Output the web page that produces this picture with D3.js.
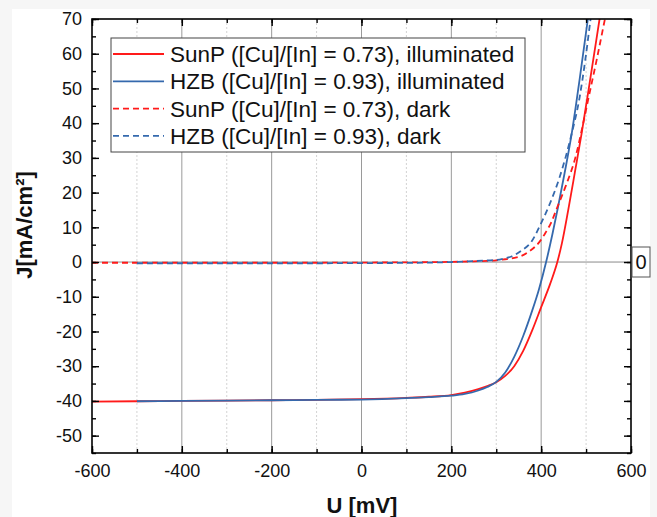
<!DOCTYPE html>
<html>
<head>
<meta charset="utf-8">
<script src="https://cdn.jsdelivr.net/npm/d3@7"></script>
<style>
  html, body { margin: 0; padding: 0; background: #f6f6f6; }
  svg { display: block; font-family: Arial, "Liberation Sans", sans-serif; }
</style>
</head>
<body>
<svg id="chart" width="657" height="517"></svg>
<script>
(function() {
'use strict';

// SunP ([Cu]/[In] = 0.73), illuminated
var sunpLightU = [-600, -500, -400, -300, -200, -100, 0, 100, 150, 200, 230, 260, 280, 300, 320, 340, 360, 380, 400, 420, 436, 446, 460, 475, 490, 510, 530, 545];
var sunpLightJ = [-40.2, -40.1, -40.0, -39.9, -39.8, -39.7, -39.5, -39.1, -38.8, -38.3, -37.6, -36.6, -35.7, -34.6, -32.8, -30.0, -25.6, -19.7, -13.0, -6.3, 0, 5.3, 14.8, 25.8, 37, 53.3, 70, 82.5];

// HZB ([Cu]/[In] = 0.93), illuminated
var hzbLightU = [-500, -400, -300, -200, -100, 0, 100, 150, 200, 230, 260, 280, 300, 320, 340, 360, 380, 395, 411, 425, 437, 452, 468, 486, 504, 515];
var hzbLightJ = [-40.1, -40.0, -39.9, -39.8, -39.7, -39.6, -39.2, -38.9, -38.5, -38.0, -37.0, -36.0, -34.5, -31.8, -27.3, -21.3, -14.0, -7.9, 0, 8, 15.5, 25.5, 37, 53, 70, 80];

// SunP dark
var sunpDarkU = [-600, -500, -400, -300, -200, -100, 0, 100, 200, 250, 280, 300, 320, 340, 355, 375, 395, 410, 422, 435, 455, 477, 492, 505, 524, 542, 550];
var sunpDarkJ = [-0.2, -0.2, -0.2, -0.2, -0.2, -0.2, -0.15, -0.1, 0.05, 0.2, 0.35, 0.5, 0.8, 1.2, 1.7, 3.2, 5.6, 8.5, 11.3, 15.5, 22, 30.5, 39, 47, 58.5, 70, 75];

// HZB dark
var hzbDarkU = [-500, -400, -300, -200, -100, 0, 100, 200, 250, 280, 300, 320, 334, 355, 379, 401, 420, 440, 468, 485, 498, 510, 518];
var hzbDarkJ = [-0.35, -0.35, -0.35, -0.35, -0.35, -0.3, -0.25, 0, 0.25, 0.45, 0.6, 1.1, 1.6, 3.2, 6, 11.5, 17, 24, 37, 47, 58, 70, 78];

var xTicks = [-600, -400, -200, 0, 200, 400, 600];
var yTicks = [-50, -40, -30, -20, -10, 0, 10, 20, 30, 40, 50, 60, 70];

var series = [
    { name: 'SunP ([Cu]/[In] = 0.73), illuminated', u: sunpLightU, j: sunpLightJ, color: '#ff1a1a', dash: null },
    { name: 'HZB ([Cu]/[In] = 0.93), illuminated', u: hzbLightU, j: hzbLightJ, color: '#3569ad', dash: null },
    { name: 'SunP ([Cu]/[In] = 0.73), dark', u: sunpDarkU, j: sunpDarkJ, color: '#ff1a1a', dash: '6,4' },
    { name: 'HZB ([Cu]/[In] = 0.93), dark', u: hzbDarkU, j: hzbDarkJ, color: '#3569ad', dash: '6,4' }
];

var svg = d3.select('#chart');
var left = 92, right = 631, top = 19, bottom = 453;

svg.append('rect').attr('x', 12).attr('y', 9).attr('width', 638).attr('height', 508).attr('fill', '#fff');

var x = d3.scaleLinear().domain([-600, 600]).range([left, right]);
var y = d3.scaleLinear().domain([-55, 70]).range([bottom, top]);

// grid
var minorX = d3.range(-500, 600, 200);
svg.append('g').selectAll('line').data(minorX).enter().append('line')
    .attr('x1', function (d) { return x(d); }).attr('x2', function (d) { return x(d); })
    .attr('y1', top).attr('y2', bottom)
    .attr('stroke', '#c8c8c8').attr('stroke-width', 0.8).attr('stroke-dasharray', '2,2');
svg.append('g').selectAll('line').data(xTicks.slice(1, -1)).enter().append('line')
    .attr('x1', function (d) { return x(d); }).attr('x2', function (d) { return x(d); })
    .attr('y1', top).attr('y2', bottom)
    .attr('stroke', '#9a9a9a').attr('stroke-width', 1);
svg.append('line').attr('x1', left).attr('x2', right).attr('y1', y(0)).attr('y2', y(0))
    .attr('stroke', '#8a8a8a').attr('stroke-width', 1);

// curves
svg.append('clipPath').attr('id', 'plotclip').append('rect')
    .attr('x', left).attr('y', top).attr('width', right - left).attr('height', bottom - top);

var line = d3.line()
    .x(function (d) { return x(d[0]); })
    .y(function (d) { return y(d[1]); })
    .curve(d3.curveMonotoneX);

var curves = svg.append('g').attr('clip-path', 'url(#plotclip)');
series.forEach(function (s) {
    curves.append('path')
        .datum(d3.zip(s.u, s.j))
        .attr('d', line)
        .attr('fill', 'none')
        .attr('stroke', s.color)
        .attr('stroke-width', 1.8)
        .attr('stroke-dasharray', s.dash);
});

// axes, ticks inward on all four sides
function styleAxis(g) {
    g.select('.domain').remove();
    g.selectAll('.tick line').attr('stroke', '#000').attr('stroke-width', 1.4);
    g.selectAll('.tick text').attr('fill', '#111').style('font-size', '18px')
        .style('font-family', 'Arial, "Liberation Sans", sans-serif');
}
var plain = function (d) { return String(d); };

var xMinor = d3.range(-600, 601, 100);
var yMinor = d3.range(-55, 71, 5);

svg.append('g').attr('transform', 'translate(0,' + bottom + ')')
    .call(d3.axisBottom(x).tickValues(xMinor).tickSize(-4).tickFormat(''))
    .call(styleAxis);
svg.append('g').attr('transform', 'translate(0,' + bottom + ')')
    .call(d3.axisBottom(x).tickValues(xTicks).tickSize(-7).tickPadding(11).tickFormat(plain))
    .call(styleAxis);
svg.append('g').attr('transform', 'translate(0,' + top + ')')
    .call(d3.axisTop(x).tickValues(xMinor).tickSize(-4).tickFormat(''))
    .call(styleAxis);
svg.append('g').attr('transform', 'translate(0,' + top + ')')
    .call(d3.axisTop(x).tickValues(xTicks).tickSize(-7).tickFormat(''))
    .call(styleAxis);

svg.append('g').attr('transform', 'translate(' + left + ',0)')
    .call(d3.axisLeft(y).tickValues(yMinor).tickSize(-4).tickFormat(''))
    .call(styleAxis);
svg.append('g').attr('transform', 'translate(' + left + ',0)')
    .call(d3.axisLeft(y).tickValues(yTicks).tickSize(-7).tickPadding(10).tickFormat(plain))
    .call(styleAxis);
svg.append('g').attr('transform', 'translate(' + right + ',0)')
    .call(d3.axisRight(y).tickValues(yMinor).tickSize(-4).tickFormat(''))
    .call(styleAxis);
svg.append('g').attr('transform', 'translate(' + right + ',0)')
    .call(d3.axisRight(y).tickValues(yTicks).tickSize(-7).tickFormat(''))
    .call(styleAxis);

svg.append('rect').attr('x', left).attr('y', top).attr('width', right - left).attr('height', bottom - top)
    .attr('fill', 'none').attr('stroke', '#000').attr('stroke-width', 1.6);

// "0" reference label at right
svg.append('rect').attr('x', 632).attr('y', 247).attr('width', 18).attr('height', 30)
    .attr('fill', '#fff').attr('stroke', '#555').attr('stroke-width', 1);
svg.append('text').attr('x', 641).attr('y', 269).attr('text-anchor', 'middle')
    .style('font-size', '20px').attr('fill', '#111').text('0');

// axis titles
svg.append('text').attr('x', 362).attr('y', 513).attr('text-anchor', 'middle')
    .style('font-size', '22px').style('font-weight', 'bold').attr('fill', '#111').text('U [mV]');
svg.append('text').attr('transform', 'translate(32,225) rotate(-90)').attr('text-anchor', 'middle')
    .style('font-size', '22px').style('font-weight', 'bold').attr('fill', '#111').text('J[mA/cm²]');

// legend
var lg = svg.append('g').attr('transform', 'translate(111,38)');
lg.append('rect').attr('width', 414).attr('height', 114)
    .attr('fill', '#fff').attr('stroke', '#444').attr('stroke-width', 1);
series.forEach(function (s, i) {
    var yy = 16 + i * 27.3;
    lg.append('line').attr('x1', 2).attr('x2', 53).attr('y1', yy).attr('y2', yy)
        .attr('stroke', s.color).attr('stroke-width', 1.8).attr('stroke-dasharray', s.dash);
    lg.append('text').attr('x', 59).attr('y', yy + 8)
        .style('font-size', '22.5px').attr('fill', '#111').text(s.name);
});

})();
</script>
</body>
</html>
